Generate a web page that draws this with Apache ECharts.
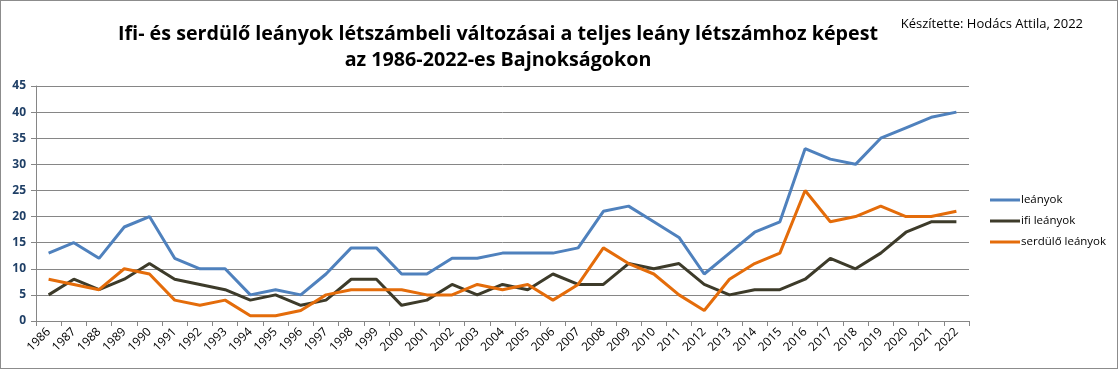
<!DOCTYPE html>
<html><head><meta charset="utf-8">
<script src="https://cdn.jsdelivr.net/npm/echarts@6/dist/echarts.min.js"></script>
<style>
html,body{margin:0;padding:0;background:#fff;}
#c{width:1116px;height:367px;border:1px solid #8c8c8c;}
</style></head>
<body><div id="c"></div>
<script>
const years = ['1986','1987','1988','1989','1990','1991','1992','1993','1994','1995','1996','1997','1998','1999','2000','2001','2002','2003','2004','2005','2006','2007','2008','2009','2010','2011','2012','2013','2014','2015','2016','2017','2018','2019','2020','2021','2022'];
const leanyok = [13,15,12,18,20,12,10,10,5,6,5,9,14,14,9,9,12,12,13,13,13,14,21,22,19,16,9,13,17,19,33,31,30,35,37,39,40];
const ifiLeanyok = [5,8,6,8,11,8,7,6,4,5,3,4,8,8,3,4,7,5,7,6,9,7,7,11,10,11,7,5,6,6,8,12,10,13,17,19,19];
const serduloLeanyok = [8,7,6,10,9,4,3,4,1,1,2,5,6,6,6,5,5,7,6,7,4,7,14,11,9,5,2,8,11,13,25,19,20,22,20,20,21];
const yTicks = [0,5,10,15,20,25,30,35,40,45];
const seriesNames = ['leányok','ifi leányok','serdülő leányok'];
const colors = ['#4F81BD','#3D3B2A','#E46C0A'];
const font = '"Open Sans",sans-serif';

const chart = echarts.init(document.getElementById('c'), null, {renderer:'canvas'});
chart.setOption({
  animation:false,
  textStyle:{fontFamily:font},
  title:[
    {text:'Ifi- és serdülő leányok létszámbeli változásai a teljes leány létszámhoz képest\naz 1986-2022-es Bajnokságokon',
     left:492, top:15, textAlign:'center',
     textStyle:{fontSize:19.7, fontWeight:'bold', color:'#000', lineHeight:26, fontFamily:font}},
    {text:'Készítette: Hodács Attila, 2022', right:29, top:12,
     textStyle:{fontSize:13, fontWeight:'normal', color:'#000', fontFamily:font}}
  ],
  legend:{
    orient:'vertical', left:984, top:188, itemGap:9, itemWidth:30, itemHeight:3,
    icon:'rect', textStyle:{fontSize:11.5, color:'#000', fontFamily:font, padding:[0,0,0,-4]},
    data:seriesNames
  },
  grid:{left:35, right:148, top:85, bottom:47, containLabel:false},
  xAxis:{
    type:'category', data:years, boundaryGap:true,
    axisLine:{lineStyle:{color:'#868686', width:1}},
    axisTick:{show:true, length:5, lineStyle:{color:'#868686'}, alignWithLabel:false},
    axisLabel:{rotate:45, fontSize:12, color:'#000', interval:0, margin:9, fontFamily:font}
  },
  yAxis:{
    type:'value', min:0, max:45, interval:5,
    axisLine:{show:true, lineStyle:{color:'#868686'}},
    axisTick:{show:true, length:5, lineStyle:{color:'#868686'}},
    axisLabel:{fontSize:12, fontWeight:'bold', color:'#1F3F66', margin:10, fontFamily:font,
      formatter:v=>yTicks.includes(v)?String(v):''},
    splitLine:{lineStyle:{color:'#868686', width:1}}
  },
  series:[
    {name:seriesNames[0], type:'line', data:leanyok, symbol:'none', lineStyle:{width:3, color:colors[0]}, itemStyle:{color:colors[0]}},
    {name:seriesNames[1], type:'line', data:ifiLeanyok, symbol:'none', lineStyle:{width:3, color:colors[1]}, itemStyle:{color:colors[1]}},
    {name:seriesNames[2], type:'line', data:serduloLeanyok, symbol:'none', lineStyle:{width:3, color:colors[2]}, itemStyle:{color:colors[2]}}
  ]
});
</script></body></html>
